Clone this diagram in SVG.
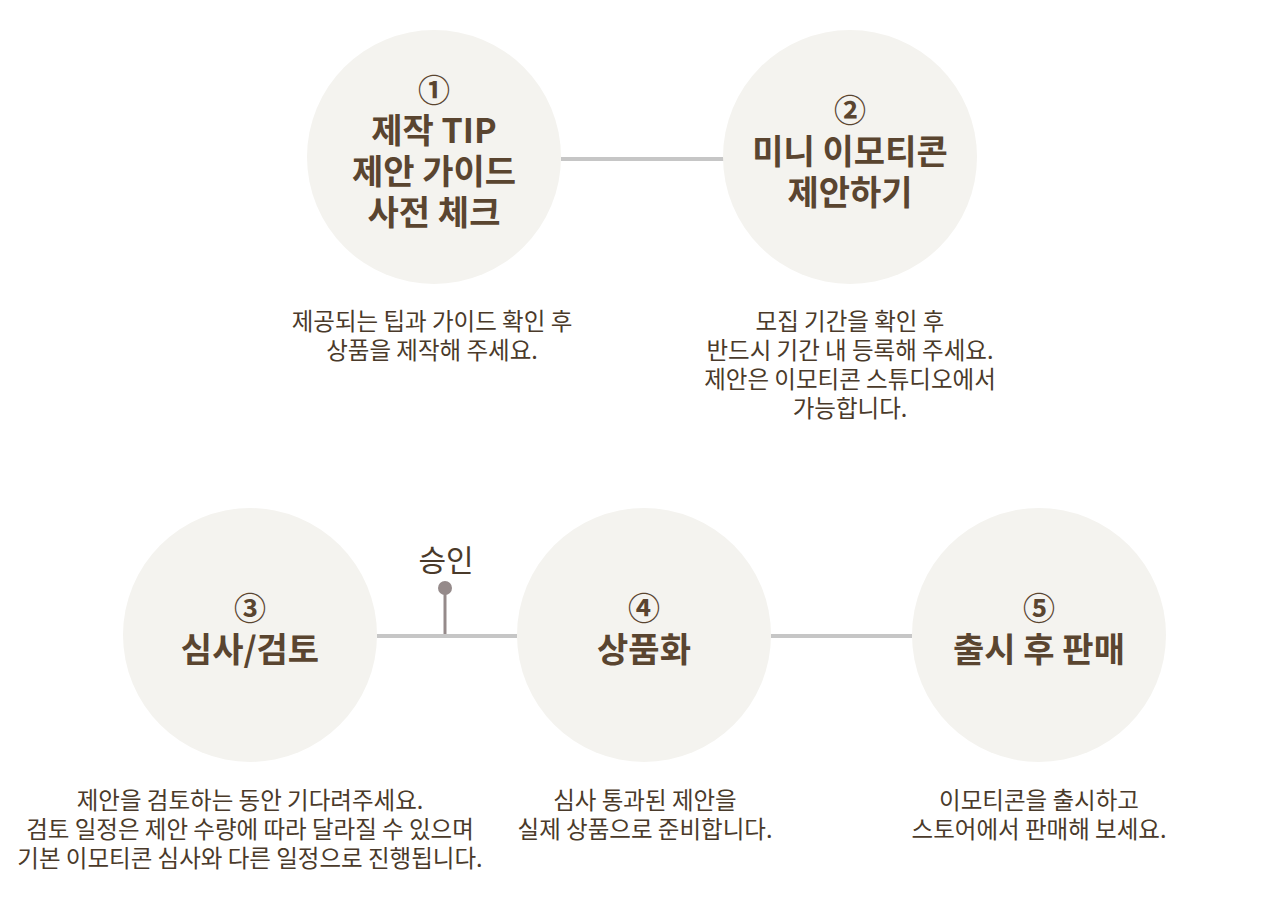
<svg xmlns="http://www.w3.org/2000/svg" width="1280" height="903" viewBox="0 0 1280 903">
<style>
.c{fill:#f4f3ef}
.t{font-family:"Noto Sans CJK KR","Noto Sans",sans-serif;font-weight:700;font-size:34px;fill:#5a4530;text-anchor:middle}
.n{font-family:"Noto Sans CJK KR","Noto Sans",sans-serif;font-weight:700;font-size:32px;fill:#5a4530;text-anchor:middle}
.d{font-family:"Noto Sans CJK KR","Noto Sans",sans-serif;font-weight:400;font-size:23.5px;fill:#4a3a2a;text-anchor:middle}
.l{stroke:#c6c6c6;stroke-width:4;fill:none}
</style>
<rect width="1280" height="903" fill="#ffffff"/>
<g id="connectors">
<line class="l" x1="561" y1="159" x2="724" y2="159"/>
<line class="l" x1="377" y1="636" x2="517" y2="636"/>
<line class="l" x1="771" y1="636" x2="912" y2="636"/>
<line x1="445" y1="588" x2="445" y2="634" stroke="#958a8a" stroke-width="3"/>
<circle cx="445" cy="588" r="7" fill="#958a8a"/>
<text class="d" x="446" y="571" style="font-size:30px">승인</text>
</g>
<g id="step1">
<circle class="c" cx="434" cy="157" r="127"/>
<text class="n" x="434" y="102">①</text>
<text class="t" x="434" y="143">제작 TIP</text>
<text class="t" x="434" y="184">제안 가이드</text>
<text class="t" x="434" y="225">사전 체크</text>
<text class="d" x="432" y="330">제공되는 팁과 가이드 확인 후</text>
<text class="d" x="432" y="359">상품을 제작해 주세요.</text>
</g>
<g id="step2">
<circle class="c" cx="850" cy="157" r="127"/>
<text class="n" x="850" y="122">②</text>
<text class="t" x="850" y="164">미니 이모티콘</text>
<text class="t" x="850" y="205">제안하기</text>
<text class="d" x="850" y="330">모집 기간을 확인 후</text>
<text class="d" x="850" y="359">반드시 기간 내 등록해 주세요.</text>
<text class="d" x="850" y="388">제안은 이모티콘 스튜디오에서</text>
<text class="d" x="850" y="417">가능합니다.</text>
</g>
<g id="step3">
<circle class="c" cx="250" cy="635" r="127"/>
<text class="n" x="250" y="620">③</text>
<text class="t" x="250" y="662">심사/검토</text>
<text class="d" x="250" y="809">제안을 검토하는 동안 기다려주세요.</text>
<text class="d" x="250" y="838">검토 일정은 제안 수량에 따라 달라질 수 있으며</text>
<text class="d" x="250" y="867">기본 이모티콘 심사와 다른 일정으로 진행됩니다.</text>
</g>
<g id="step4">
<circle class="c" cx="644" cy="635" r="127"/>
<text class="n" x="644" y="620">④</text>
<text class="t" x="644" y="662">상품화</text>
<text class="d" x="645" y="809">심사 통과된 제안을</text>
<text class="d" x="645" y="838">실제 상품으로 준비합니다.</text>
</g>
<g id="step5">
<circle class="c" cx="1039" cy="635" r="127"/>
<text class="n" x="1039" y="620">⑤</text>
<text class="t" x="1039" y="662">출시 후 판매</text>
<text class="d" x="1039" y="809">이모티콘을 출시하고</text>
<text class="d" x="1039" y="838">스토어에서 판매해 보세요.</text>
</g>
</svg>
